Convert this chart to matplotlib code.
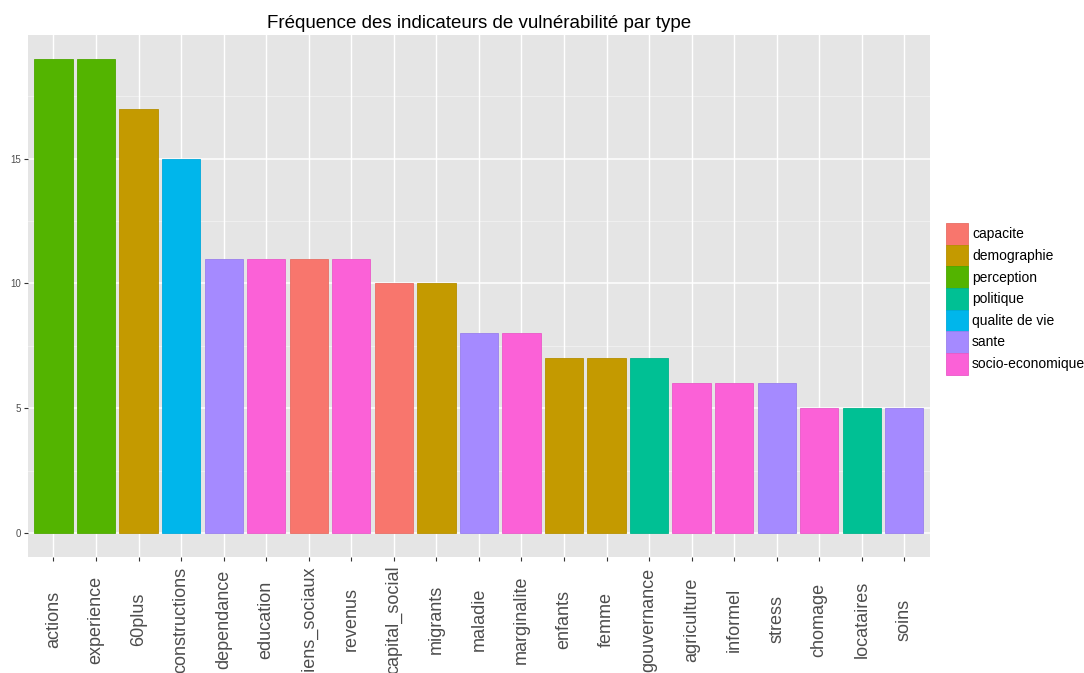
import numpy as np
import matplotlib
matplotlib.use('Agg')
import matplotlib.pyplot as plt
from matplotlib.patches import Patch
from matplotlib.colors import to_rgb

plt.rcParams['font.family'] = ['Liberation Sans', 'DejaVu Sans']

indicateurs = ['actions', 'experience', '60plus', 'constructions', 'dependance',
               'education', 'liens_sociaux', 'revenus', 'capital_social', 'migrants',
               'maladie', 'marginalite', 'enfants', 'femme', 'gouvernance',
               'agriculture', 'informel', 'stress', 'chomage', 'locataires', 'soins']
frequences = [19, 19, 17, 15, 11, 11, 11, 11, 10, 10, 8, 8, 7, 7, 7, 6, 6, 6, 5, 5, 5]
types = ['perception', 'perception', 'demographie', 'qualite de vie', 'sante',
         'socio-economique', 'capacite', 'socio-economique', 'capacite', 'demographie',
         'sante', 'socio-economique', 'demographie', 'demographie', 'politique',
         'socio-economique', 'socio-economique', 'sante', 'socio-economique',
         'politique', 'sante']

type_levels = ['capacite', 'demographie', 'perception', 'politique',
               'qualite de vie', 'sante', 'socio-economique']
palette = ['#F8766D', '#C49A00', '#53B400', '#00C094', '#00B6EB', '#A58AFF', '#FB61D7']
couleur = dict(zip(type_levels, palette))


def darker(c, f=0.93):
    r, g, b = to_rgb(c)
    return (r * f, g * f, b * f)


fig = plt.figure(figsize=(10.84, 6.73), dpi=100)
ax = fig.add_axes([0.0258, 0.1724, 0.832, 0.7756])
ax.set_facecolor('#E5E5E5')

x = np.arange(len(indicateurs))
fills = [couleur[t] for t in types]
edges = [darker(couleur[t]) for t in types]
ax.bar(x, frequences, width=0.9, color=fills, edgecolor=edges, linewidth=0.6, zorder=3)

# grid: ggplot-like major and minor lines
for v in [2.5, 7.5, 12.5, 17.5]:
    ax.axhline(v, color='#F2F2F2', linewidth=0.6, zorder=1)
for v in [0, 5, 10, 15]:
    ax.axhline(v, color='white', linewidth=1.1, zorder=1)
for xi in x:
    ax.axvline(xi, color='white', linewidth=1.0, zorder=1)

ax.set_xlim(-0.6, len(indicateurs) - 0.4)
ax.set_ylim(-0.95, 19.95)
ax.set_yticks([0, 5, 10, 15])
ax.set_yticklabels(['0', '5', '10', '15'], fontsize=7, color='#4D4D4D')
ax.set_xticks(x)
ax.set_xticklabels(indicateurs, rotation=90, fontsize=13, color='#4D4D4D',
                   ha='center', va='center')
ax.tick_params(axis='x', length=3, color='#333333', pad=42)
ax.tick_params(axis='y', length=3, color='#333333', pad=2)
for s in ax.spines.values():
    s.set_visible(False)

ax.set_title('Fréquence des indicateurs de vulnérabilité par type',
             fontsize=13.5, color='black', pad=5)

handles = [Patch(facecolor=couleur[t], edgecolor=darker(couleur[t]), linewidth=0.6)
           for t in type_levels]
fig.legend(handles, type_levels, loc='upper left', bbox_to_anchor=(0.8727, 0.6686),
           frameon=False, fontsize=10, handlelength=1.58, handleheight=2.02,
           labelspacing=0.0, handletextpad=0.3, borderpad=0, borderaxespad=0)

fig.savefig('out.png', dpi=100)
